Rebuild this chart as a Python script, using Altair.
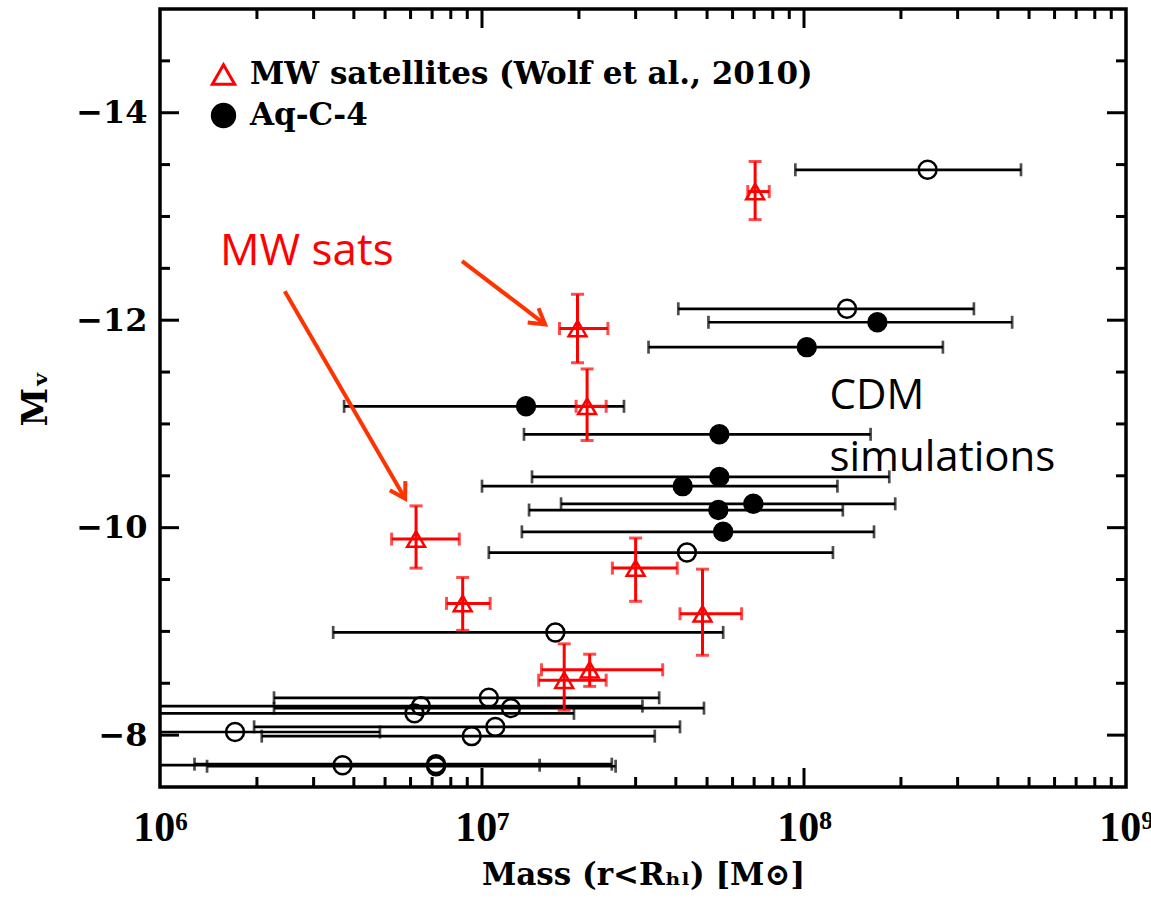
import altair as alt
import pandas as pd

# ---------------- data ----------------
# MW satellites (Wolf et al. 2010)
mw_mass    = [7.05e7, 1.98e7, 2.12e7, 6.24e6, 8.71e6, 3.00e7, 4.84e7, 1.80e7, 2.16e7]
mw_mass_lo = [6.69e7, 1.74e7, 1.96e7, 5.24e6, 7.76e6, 2.54e7, 4.12e7, 1.50e7, 1.53e7]
mw_mass_hi = [7.80e7, 2.46e7, 2.43e7, 8.50e6, 1.06e7, 4.04e7, 6.40e7, 2.43e7, 3.64e7]
mw_mv      = [-13.24, -11.92, -11.17, -9.89, -9.27, -9.61, -9.17, -8.53, -8.63]
mw_mv_lo   = [-13.53, -12.25, -11.53, -10.21, -9.52, -9.90, -9.60, -8.88, -8.78]
mw_mv_hi   = [-12.97, -11.59, -10.84, -9.61, -9.01, -9.29, -8.77, -8.24, -8.47]

# Aq-C-4 (filled circles)
aq_mass    = [1.69e8, 1.02e8, 1.37e7, 5.46e7, 5.46e7, 4.20e7, 6.96e7, 5.42e7, 5.61e7]
aq_mass_lo = [5.05e7, 3.29e7, 3.73e6, 1.35e7, 1.43e7, 1.00e7, 1.76e7, 1.40e7, 1.33e7]
aq_mass_hi = [4.43e8, 2.70e8, 2.76e7, 1.61e8, 1.84e8, 1.27e8, 1.92e8, 1.32e8, 1.65e8]
aq_mv      = [-11.98, -11.74, -11.17, -10.90, -10.49, -10.40, -10.23, -10.17, -9.96]

# open circles
op_mass    = [2.42e8, 1.36e8, 4.33e7, 1.69e7, 1.05e7, 1.23e7, 6.46e6, 6.17e6, 1.71e6, 1.10e7, 9.29e6, 3.69e6, 7.20e6, 7.20e6]
op_mass_lo = [9.40e7, 4.07e7, 1.05e7, 3.45e6, 2.26e6, 2.26e6, 8.0e5, 8.0e5, 8.0e5, 1.96e6, 2.07e6, 8.0e5, 1.28e6, 1.40e6]
op_mass_hi = [4.72e8, 3.37e8, 1.23e8, 5.61e7, 3.55e7, 4.89e7, 3.15e7, 1.93e7, 4.82e6, 4.12e7, 3.44e7, 1.51e7, 2.53e7, 2.60e7]
op_mv      = [-13.45, -12.11, -9.76, -8.99, -8.36, -8.26, -8.28, -8.21, -8.03, -8.08, -7.99, -7.71, -7.72, -7.70]

# axis ticks
x_major = [1e6, 1e7, 1e8, 1e9]
x_minor = [2e6, 3e6, 4e6, 5e6, 6e6, 7e6, 8e6, 9e6,
           2e7, 3e7, 4e7, 5e7, 6e7, 7e7, 8e7, 9e7,
           2e8, 3e8, 4e8, 5e8, 6e8, 7e8, 8e8, 9e8]
y_major = [-14, -12, -10, -8]
y_minor = [-14.5, -13.5, -13, -12.5, -11.5, -11, -10.5, -9.5, -9, -8.5]

# annotations
red_text = ["MW sats"]
red_text_x = [1.535e6]
red_text_y = [-12.53]
black_text = ["CDM", "simulations"]
black_text_x = [1.2e8, 1.2e8]
black_text_y = [-11.14, -10.55]
arrow_x0 = [2.44e6, 8.67e6]
arrow_y0 = [-12.28, -12.57]
arrow_x1 = [5.77e6, 1.57e7]
arrow_y1 = [-10.28, -11.96]
arrow_angle = [150, 127]

MW_LABEL = "MW satellites (Wolf et al., 2010)"
AQ_LABEL = "Aq-C-4"
OPEN_LABEL = "open"

# ---------------- frames ----------------
mw = pd.DataFrame(dict(mass=mw_mass, lo=mw_mass_lo, hi=mw_mass_hi, mv=mw_mv, mvlo=mw_mv_lo, mvhi=mw_mv_hi))
sim = pd.concat([
    pd.DataFrame(dict(mass=aq_mass, lo=aq_mass_lo, hi=aq_mass_hi, mv=aq_mv, kind=AQ_LABEL)),
    pd.DataFrame(dict(mass=op_mass, lo=op_mass_lo, hi=op_mass_hi, mv=op_mv, kind=OPEN_LABEL)),
], ignore_index=True)
pts = pd.concat([
    sim[["mass", "mv", "kind"]],
    pd.DataFrame(dict(mass=mw_mass, mv=mw_mv, kind=MW_LABEL)),
], ignore_index=True)

W, H = 966, 778
SERIF = "DejaVu Serif"

xscale = alt.Scale(type="log", domain=[1e6, 1e9], nice=False)
yscale = alt.Scale(domain=[-15, -7.5], reverse=True, nice=False, zero=False)

xaxis = alt.Axis(
    values=x_major, ticks=False, tickSize=0, domain=False, grid=False,
    labelExpr="'10' + (datum.value < 5e6 ? '⁶' : datum.value < 5e7 ? '⁷' : datum.value < 5e8 ? '⁸' : '⁹')",
    labelFont="Liberation Serif", labelFontWeight="bold", labelFontSize=42, labelColor="black",
    labelPadding=20, labelFlush=False, labelOverlap=False,
    title="Mass (r<Rₕₗ) [M⊙]", titleFont=SERIF, titleFontWeight="bold", titleFontSize=31,
    titleColor="black", titlePadding=12,
)
yaxis = alt.Axis(
    values=y_major, ticks=False, tickSize=0, domain=False, grid=False,
    labelExpr="'−' + abs(datum.value)",
    labelFont=SERIF, labelFontWeight="bold", labelFontSize=32, labelColor="black",
    labelPadding=13, labelFlush=False, labelOverlap=False,
    title="Mᵥ", titleFont=SERIF, titleFontWeight="bold", titleFontSize=35,
    titleColor="black", titlePadding=22,
)

def X(f):
    return alt.X(f, type="quantitative", scale=xscale, axis=xaxis)

def Y(f):
    return alt.Y(f, type="quantitative", scale=yscale, axis=yaxis)

# ---------------- ticks (inside, all four sides) ----------------
ymaj = pd.DataFrame(dict(v=y_major))
ymin = pd.DataFrame(dict(v=y_minor))
xmaj = pd.DataFrame(dict(v=x_major[1:-1]))
xmin = pd.DataFrame(dict(v=x_minor))
TW = 3
MAJ, MIN = 19, 10

tick_layers = []
for df, L in [(ymaj, MAJ), (ymin, MIN)]:
    tick_layers.append(alt.Chart(df).mark_rule(color="black", strokeWidth=TW).encode(
        y=Y("v"), x=alt.value(0), x2=alt.value(L)))
    tick_layers.append(alt.Chart(df).mark_rule(color="black", strokeWidth=TW).encode(
        y=Y("v"), x=alt.value(W - L), x2=alt.value(W)))
for df, L in [(xmaj, MAJ), (xmin, MIN)]:
    tick_layers.append(alt.Chart(df).mark_rule(color="black", strokeWidth=TW).encode(
        x=X("v"), y=alt.value(H - L), y2=alt.value(H)))
    tick_layers.append(alt.Chart(df).mark_rule(color="black", strokeWidth=TW).encode(
        x=X("v"), y=alt.value(0), y2=alt.value(L)))

# ---------------- simulation error bars ----------------
BW = 2.7
sim_bar = alt.Chart(sim).mark_rule(color="black", strokeWidth=BW, clip=True).encode(
    x=X("lo"), x2="hi", y=Y("mv"))
sim_cap_lo = alt.Chart(sim).mark_tick(color="black", orient="vertical", size=13, thickness=BW, clip=True).encode(
    x=X("lo"), y=Y("mv"))
sim_cap_hi = alt.Chart(sim).mark_tick(color="black", orient="vertical", size=13, thickness=BW, clip=True).encode(
    x=X("hi"), y=Y("mv"))

# ---------------- MW error bars ----------------
RED = "#ff0000"
RW = 3
mw_hbar = alt.Chart(mw).mark_rule(color=RED, strokeWidth=RW).encode(x=X("lo"), x2="hi", y=Y("mv"))
mw_vbar = alt.Chart(mw).mark_rule(color=RED, strokeWidth=RW).encode(x=X("mass"), y=Y("mvlo"), y2="mvhi")
mw_cap1 = alt.Chart(mw).mark_tick(color=RED, orient="vertical", size=13, thickness=RW).encode(x=X("lo"), y=Y("mv"))
mw_cap2 = alt.Chart(mw).mark_tick(color=RED, orient="vertical", size=13, thickness=RW).encode(x=X("hi"), y=Y("mv"))
mw_cap3 = alt.Chart(mw).mark_tick(color=RED, orient="horizontal", size=13, thickness=RW).encode(x=X("mass"), y=Y("mvlo"))
mw_cap4 = alt.Chart(mw).mark_tick(color=RED, orient="horizontal", size=13, thickness=RW).encode(x=X("mass"), y=Y("mvhi"))

# ---------------- markers + legend ----------------
dom = [MW_LABEL, AQ_LABEL, OPEN_LABEL]
legend = alt.Legend(
    title=None, orient="none", legendX=48, legendY=50, values=[MW_LABEL, AQ_LABEL],
    labelFont=SERIF, labelFontWeight="bold", labelFontSize=31, labelColor="black", labelLimit=900,
    symbolSize=500, symbolStrokeWidth=3, rowPadding=7, labelOffset=11, padding=0,
)
points = alt.Chart(pts).mark_point(size=320, strokeWidth=2.5, opacity=1, clip=True).encode(
    x=X("mass"), y=Y("mv"),
    shape=alt.Shape("kind:N", scale=alt.Scale(domain=dom, range=["triangle-up", "circle", "circle"]), legend=legend),
    stroke=alt.Stroke("kind:N", scale=alt.Scale(domain=dom, range=[RED, "black", "black"]), legend=legend),
    fill=alt.Fill("kind:N", scale=alt.Scale(domain=dom, range=["transparent", "black", "transparent"]), legend=legend),
)

# ---------------- annotations ----------------
ARROW = "#ff3300"
arrows = pd.DataFrame(dict(x0=arrow_x0, y0=arrow_y0, x1=arrow_x1, y1=arrow_y1, ang=arrow_angle))
arrow_shaft = alt.Chart(arrows).mark_rule(color=ARROW, strokeWidth=4).encode(
    x=X("x0"), y=Y("y0"), x2="x1", y2="y1")
arrow_head = alt.Chart(arrows).mark_point(
    shape="M -0.6 1 L 0 0 L 0.6 1", filled=False, stroke=ARROW, strokeWidth=4, size=900, opacity=1
).encode(x=X("x1"), y=Y("y1"), angle=alt.Angle("ang:Q", scale=None))

rt = pd.DataFrame(dict(t=red_text, x=red_text_x, y=red_text_y))
bt = pd.DataFrame(dict(t=black_text, x=black_text_x, y=black_text_y))
red_lbl = alt.Chart(rt).mark_text(font="Open Sans", fontSize=44, align="left", baseline="alphabetic", color=RED).encode(
    x=X("x"), y=Y("y"), text="t:N")
black_lbl = alt.Chart(bt).mark_text(font="Open Sans", fontSize=42, align="left", baseline="alphabetic", color="black").encode(
    x=X("x"), y=Y("y"), text="t:N")

chart = alt.layer(
    *tick_layers,
    sim_bar, sim_cap_lo, sim_cap_hi,
    mw_hbar, mw_vbar, mw_cap1, mw_cap2, mw_cap3, mw_cap4,
    points,
    arrow_shaft, arrow_head, red_lbl, black_lbl,
).properties(
    width=W, height=H,
    autosize=alt.AutoSizeParams(type="none"),
    padding={"left": 160, "top": 9, "right": 25, "bottom": 112},
    background="white",
).configure_view(stroke="black", strokeWidth=3.5)

chart.save("out.html", embed_options={"renderer": "svg", "actions": False})
